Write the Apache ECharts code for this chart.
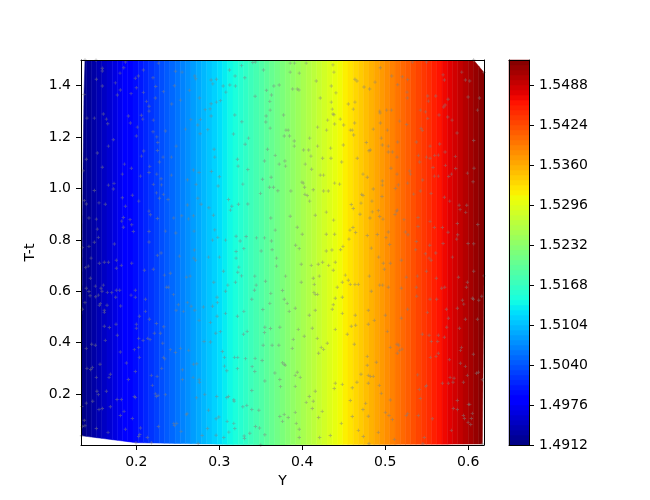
<!DOCTYPE html>
<html>
<head>
<meta charset="utf-8">
<script src="https://cdn.jsdelivr.net/npm/echarts@6/dist/echarts.min.js"></script>
<style>html,body{margin:0;padding:0;background:#fff;}#chart{width:650px;height:500px;}</style>
</head>
<body>
<div id="chart"></div>
<script>
// ---------------- data ----------------
// field profile: value of the contoured quantity along the horizontal axis "Y"
const profileY     = [0.1334, 0.2, 0.3, 0.4, 0.5, 0.6, 0.619];
const profileValue = [1.4912, 1.4997, 1.5123, 1.5250, 1.5377, 1.5504, 1.5528];
// contour levels (as chosen by the plotting library)
const levelMin = 1.4912, levelStep = 0.0008, levelCount = 77;
const colorbarTicks = [1.4912, 1.4976, 1.5040, 1.5104, 1.5168, 1.5232, 1.5296, 1.5360, 1.5424, 1.5488];
const xTicks = [0.2, 0.3, 0.4, 0.5, 0.6];
const yTicks = [0.2, 0.4, 0.6, 0.8, 1.0, 1.2, 1.4];
const X_MIN = 0.1334, X_MAX = 0.619, Y_MIN = 0.002, Y_MAX = 1.5;
// sample locations [Y, T-t] (a read-off subset plus the outermost points)
const samplePoints = [
[0.1340,0.038],[0.1996,0.011],[0.2746,0.008],[0.3500,0.002],[0.5454,0.0066],[0.6170,0.006],[0.6171,0.256],[0.6190,0.660],[0.6190,1.451],[0.6065,1.500],[0.1382,1.500],[0.1370,1.366],[0.1358,1.069],[0.1350,0.770],
[0.1515,1.499],[0.1869,1.492],[0.2267,1.488],[0.3404,1.490],[0.3436,1.492],[0.3268,1.478],[0.1591,1.468],[0.1591,1.457],[0.1849,1.470],[0.2086,1.461],[0.1804,1.449],[0.2472,1.456],[0.2552,1.453],[0.2705,1.438],[0.2717,1.427],[0.3123,1.461],[0.3533,1.461],[0.3191,1.438],[0.1519,1.425],[0.1989,1.429],[0.2025,1.438],[0.2202,1.431],[0.2902,1.422],[0.2966,1.425],[0.2922,1.407],[0.3047,1.399],[0.3127,1.403],[0.3195,1.399],[0.3308,1.431],[0.1748,1.411],[0.1591,1.399],[0.2001,1.392],[0.2234,1.397],[0.2460,1.400],[0.3569,1.382],[0.3658,1.399],[0.3722,1.403],[0.1808,1.383],[0.1772,1.364],[0.1937,1.369],[0.2086,1.374],[0.2327,1.377],[0.2641,1.382],[0.3079,1.375],[0.3432,1.359],[0.3629,1.364],[0.3609,1.339],[0.2230,1.352],[0.2122,1.339],[0.2154,1.320],[0.2427,1.329],[0.2532,1.344],[0.2761,1.352],[0.2902,1.330],[0.2966,1.336],[0.3014,1.342],[0.2890,1.310],[0.2830,1.307],[0.3613,1.305],[0.1603,1.290],[0.1406,1.274],[0.1495,1.274],[0.1640,1.270],[0.1656,1.252],[0.1905,1.282],[0.2062,1.285],[0.2078,1.270],[0.2154,1.301],[0.2206,1.266],[0.1929,1.255],[0.2902,1.282],[0.3187,1.286],[0.3272,1.260],[0.3565,1.282],[0.3561,1.259],[0.3613,1.235],[0.2657,1.268],[0.2773,1.269],[0.2741,1.247],[0.2592,1.231],[0.2769,1.213],[0.2862,1.229],[0.2013,1.239],[0.2202,1.221],[0.2351,1.224],[0.2001,1.204],[0.2247,1.201],[0.1724,1.190],[0.1664,1.165],[0.3171,1.212],[0.3352,1.196],[0.3312,1.172],[0.2259,1.179],[0.2480,1.165],[0.2255,1.148],[0.2090,1.146],[0.2062,1.126],[0.1531,1.138],[0.1398,1.114],[0.2323,1.122],[0.2423,1.122],[0.2279,1.103],[0.1857,1.095],[0.1591,1.083],[0.1941,1.079],[0.2162,1.086],[0.2938,1.153],[0.2946,1.122],[0.3219,1.114],[0.3227,1.087],[0.3344,1.074],[0.3581,1.153],[0.3545,1.107],[0.3674,1.129],[0.3722,1.095],[0.1832,1.056],[0.2050,1.048],[0.2154,1.062],[0.2247,1.056],[0.2299,1.038],[0.2423,1.052],[0.2616,1.034],[0.2689,1.072],[0.2757,1.062],[0.2906,1.066],[0.3002,1.046],[0.1664,1.013],[0.1732,1.020],[0.1724,0.998],[0.2206,1.016],[0.2303,1.014],[0.2721,1.016],[0.2986,1.010],[0.3284,1.017],[0.3521,1.036],[0.3625,1.044],[0.3605,1.005],[0.3654,1.005],[0.3706,0.991],[0.1495,0.992],[0.1374,0.953],[0.1398,0.940],[0.1551,0.944],[0.1627,0.939],[0.1869,0.931],[0.1832,0.964],[0.1953,0.974],[0.2030,0.951],[0.2243,0.983],[0.2327,0.977],[0.2279,0.962],[0.2383,0.957],[0.2616,0.936],[0.2741,0.962],[0.2781,0.939],[0.2874,0.925],[0.3111,0.957],[0.3151,0.931],[0.3231,0.939],[0.3344,0.940],[0.3497,0.981],[0.1430,0.885],[0.1519,0.881],[0.1845,0.887],[0.1824,0.873],[0.1925,0.879],[0.1945,0.859],[0.2154,0.912],[0.2170,0.898],[0.2255,0.883],[0.2452,0.885],[0.2548,0.894],[0.2628,0.882],[0.2689,0.894],[0.2930,0.896],[0.3135,0.916],[0.3621,0.885],[0.3674,0.838],[0.1531,0.842],[0.1543,0.810],[0.1495,0.791],[0.1430,0.775],[0.1736,0.784],[0.1845,0.849],[0.1965,0.833],[0.2154,0.833],[0.2154,0.792],[0.2351,0.834],[0.2476,0.827],[0.2697,0.834],[0.2946,0.839],[0.2982,0.810],[0.2918,0.799],[0.3075,0.799],[0.3203,0.814],[0.3252,0.796],[0.3324,0.813],[0.3449,0.808],[0.3545,0.808],[0.3629,0.796],[0.2701,0.761],[0.3203,0.755],[0.3296,0.766],[0.3505,0.757],[0.3637,0.762],
[0.3855,1.488],[0.3908,1.488],[0.4048,1.488],[0.4370,1.481],[0.3855,1.453],[0.3964,1.449],[0.4382,1.453],[0.4941,1.470],[0.5327,1.492],[0.5496,1.492],[0.4169,1.418],[0.4635,1.425],[0.4659,1.418],[0.4877,1.414],[0.4744,1.395],[0.4812,1.387],[0.5078,1.438],[0.5206,1.435],[0.5270,1.424],[0.5150,1.404],[0.5697,1.442],[0.5713,1.422],[0.5922,1.453],[0.5966,1.422],[0.6018,1.418],[0.3884,1.387],[0.3940,1.387],[0.3960,1.383],[0.4350,1.399],[0.4406,1.372],[0.4217,1.352],[0.5262,1.375],[0.5266,1.352],[0.5512,1.360],[0.5520,1.340],[0.5608,1.360],[0.5757,1.347],[0.5998,1.356],[0.6135,1.352],[0.4350,1.336],[0.4555,1.329],[0.4635,1.336],[0.4362,1.309],[0.4615,1.309],[0.4370,1.290],[0.4382,1.287],[0.4306,1.266],[0.4458,1.270],[0.4390,1.251],[0.4499,1.247],[0.4631,1.255],[0.4603,1.227],[0.4933,1.301],[0.4937,1.294],[0.5017,1.305],[0.5074,1.305],[0.5423,1.305],[0.5484,1.298],[0.5705,1.317],[0.5721,1.325],[0.5648,1.286],[0.5753,1.278],[0.6111,1.305],[0.3775,1.286],[0.4185,1.239],[0.3803,1.227],[0.3831,1.227],[0.4294,1.227],[0.4579,1.227],[0.4619,1.208],[0.4856,1.231],[0.4941,1.255],[0.5025,1.227],[0.5174,1.262],[0.5258,1.249],[0.5512,1.273],[0.5431,1.234],[0.5447,1.226],[0.5805,1.266],[0.5865,1.216],[0.3783,1.204],[0.3847,1.204],[0.3904,1.185],[0.4089,1.196],[0.3904,1.165],[0.4016,1.150],[0.4077,1.150],[0.4185,1.165],[0.4342,1.157],[0.4495,1.169],[0.4772,1.179],[0.4953,1.196],[0.4965,1.169],[0.5037,1.165],[0.5037,1.142],[0.4804,1.147],[0.4820,1.150],[0.5150,1.181],[0.5142,1.122],[0.5086,1.142],[0.5375,1.181],[0.5399,1.129],[0.5540,1.165],[0.5540,1.118],[0.5596,1.129],[0.5640,1.130],[0.5656,1.173],[0.5721,1.142],[0.5845,1.125],[0.6066,1.187],[0.3791,1.107],[0.3799,1.087],[0.4036,1.095],[0.4105,1.126],[0.4113,1.075],[0.4245,1.118],[0.4346,1.118],[0.4475,1.103],[0.4663,1.118],[0.5069,1.079],[0.5142,1.056],[0.5295,1.068],[0.5303,1.056],[0.5415,1.103],[0.5496,1.122],[0.5576,1.082],[0.5725,1.090],[0.5849,1.078],[0.6070,1.079],[0.5990,1.060],[0.5797,1.056],[0.5765,1.047],[0.5592,1.048],[0.5640,1.048],[0.5451,1.033],[0.4217,1.052],[0.4257,1.052],[0.3996,1.025],[0.4012,1.021],[0.4028,1.005],[0.3863,0.990],[0.4032,0.977],[0.4060,0.973],[0.4133,0.995],[0.4089,0.951],[0.4257,0.990],[0.4314,0.990],[0.4390,1.021],[0.4450,1.017],[0.4732,1.056],[0.4784,1.044],[0.4965,1.029],[0.4965,1.013],[0.4856,0.998],[0.4716,0.977],[0.4732,0.973],[0.4708,0.943],[0.4840,0.951],[0.4961,0.969],[0.5122,1.000],[0.5270,1.021],[0.5158,1.014],[0.5343,0.978],[0.5423,0.990],[0.5552,0.981],[0.5713,0.966],[0.5777,0.951],[0.5890,0.935],[0.5982,0.935],[0.6058,1.026],[0.4591,0.938],[0.4615,0.922],[0.4844,0.909],[0.4917,0.914],[0.4696,0.900],[0.4816,0.885],[0.4933,0.891],[0.4973,0.881],[0.5134,0.912],[0.5146,0.916],[0.5118,0.899],[0.5226,0.879],[0.5395,0.887],[0.5395,0.852],[0.5540,0.872],[0.5592,0.848],[0.5689,0.848],[0.5757,0.830],[0.5869,0.864],[0.5873,0.820],[0.5902,0.918],[0.5970,0.907],[0.6115,0.860],[0.3855,0.892],[0.3940,0.849],[0.4000,0.822],[0.4157,0.896],[0.4290,0.908],[0.4378,0.877],[0.4575,0.838],[0.4611,0.848],[0.4290,0.822],[0.4390,0.822],[0.4563,0.803],[0.4643,0.829],[0.4784,0.817],[0.4905,0.821],[0.5009,0.809],[0.5037,0.831],[0.5242,0.831],[0.5274,0.820],[0.5375,0.794],[0.5697,0.786],[0.5861,0.803],[0.5998,0.786],[0.6066,0.785],[0.3920,0.779],[0.3964,0.766],[0.4290,0.757],[0.4358,0.761],[0.4462,0.762],[0.4491,0.775],[0.4832,0.768],[0.5053,0.782],[0.5367,0.762],[0.5536,0.779],
[0.1455,0.729],[0.1422,0.698],[0.1390,0.692],[0.1555,0.709],[0.1615,0.713],[0.1664,0.713],[0.1760,0.721],[0.1760,0.690],[0.1820,0.701],[0.1945,0.709],[0.2255,0.740],[0.2299,0.749],[0.2520,0.737],[0.2693,0.729],[0.2713,0.721],[0.2870,0.733],[0.3002,0.733],[0.2098,0.682],[0.2206,0.686],[0.2339,0.663],[0.2411,0.670],[0.2604,0.655],[0.2649,0.659],[0.1447,0.651],[0.1398,0.612],[0.1430,0.599],[0.1443,0.583],[0.1507,0.620],[0.1575,0.612],[0.1603,0.624],[0.1511,0.579],[0.1543,0.585],[0.1587,0.600],[0.1652,0.596],[0.1704,0.595],[0.1760,0.604],[0.1800,0.604],[0.1812,0.543],[0.1752,0.577],[0.1567,0.552],[0.1555,0.546],[0.1648,0.546],[0.1615,0.526],[0.1615,0.518],[0.1382,0.556],[0.1350,0.530],[0.1937,0.585],[0.1989,0.604],[0.1989,0.577],[0.2110,0.569],[0.2363,0.616],[0.2387,0.616],[0.2448,0.587],[0.2508,0.548],[0.2616,0.556],[0.2661,0.542],[0.2809,0.539],[0.2918,0.542],[0.2974,0.577],[0.2978,0.556],[0.3075,0.600],[0.3103,0.624],[0.3051,0.678],[0.3203,0.729],[0.3223,0.674],[0.3235,0.694],[0.3268,0.660],[0.2934,0.635],[0.3195,0.635],[0.3428,0.659],[0.3445,0.624],[0.3424,0.604],[0.3557,0.639],[0.3690,0.729],[0.3690,0.698],[0.3621,0.592],[0.3609,0.553],[0.3525,0.529],[0.3762,0.603],[0.3392,0.569],[0.3296,0.522],[0.3219,0.503],[0.3075,0.514],[0.2974,0.503],[0.2894,0.479],[0.2757,0.487],[0.2705,0.526],[0.2568,0.522],[0.2480,0.526],[0.2243,0.475],[0.2158,0.491],[0.2110,0.522],[0.2038,0.503],[0.2001,0.472],[0.2001,0.456],[0.2218,0.437],[0.2291,0.437],[0.2331,0.462],[0.1756,0.472],[0.1615,0.464],[0.1676,0.459],[0.1772,0.429],[0.1627,0.409],[0.1463,0.394],[0.1507,0.390],[0.1398,0.378],[0.1808,0.364],[0.2029,0.417],[0.2082,0.409],[0.2138,0.417],[0.2166,0.412],[0.2029,0.382],[0.1977,0.373],[0.2038,0.343],[0.2319,0.398],[0.2327,0.343],[0.2343,0.337],[0.2411,0.373],[0.2472,0.362],[0.2532,0.378],[0.2632,0.370],[0.2689,0.316],[0.2729,0.318],[0.2817,0.405],[0.2894,0.403],[0.2958,0.437],[0.3014,0.443],[0.3336,0.444],[0.3292,0.433],[0.3549,0.460],[0.3545,0.440],[0.3617,0.455],[0.3730,0.460],[0.3529,0.390],[0.3637,0.390],[0.3718,0.390],[0.3038,0.366],[0.3063,0.343],[0.3183,0.343],[0.3223,0.343],[0.3316,0.338],[0.3219,0.299],[0.3063,0.309],[0.3091,0.291],[0.3396,0.307],[0.3428,0.288],[0.3517,0.331],[0.3432,0.339],[0.3762,0.322],[0.3670,0.282],[0.3730,0.257],[0.3549,0.251],[0.3392,0.214],[0.3738,0.229],[0.1563,0.316],[0.1471,0.304],[0.1406,0.300],[0.1451,0.296],[0.1688,0.277],[0.1672,0.265],[0.1519,0.265],[0.1905,0.257],[0.1881,0.321],[0.1989,0.288],[0.2182,0.273],[0.2251,0.269],[0.2307,0.300],[0.2556,0.257],[0.2556,0.295],[0.2685,0.265],[0.2757,0.257],[0.2761,0.246],[0.2194,0.234],[0.2230,0.201],[0.2243,0.191],[0.2351,0.198],[0.2263,0.195],[0.1977,0.191],[0.1989,0.187],[0.1768,0.179],[0.1820,0.179],[0.1543,0.198],[0.1475,0.172],[0.1398,0.165],[0.1527,0.211],[0.1640,0.211],[0.1688,0.151],[0.1551,0.140],[0.1591,0.144],[0.1853,0.133],[0.1808,0.117],[0.1953,0.105],[0.1342,0.152],[0.1374,0.098],[0.1382,0.077],[0.1350,0.074],[0.1519,0.066],[0.1660,0.051],[0.1869,0.063],[0.2050,0.068],[0.2029,0.035],[0.2042,0.043],[0.2134,0.031],[0.2267,0.074],[0.2182,0.011],[0.2452,0.086],[0.2460,0.078],[0.2488,0.086],[0.2540,0.055],[0.2604,0.120],[0.2612,0.125],[0.2725,0.186],[0.2825,0.199],[0.2970,0.191],[0.3091,0.187],[0.3111,0.191],[0.3175,0.178],[0.3179,0.172],[0.3284,0.151],[0.3332,0.156],[0.3392,0.140],[0.3477,0.137],[0.2870,0.137],[0.2962,0.104],[0.2994,0.111],[0.3095,0.094],[0.3175,0.086],[0.3187,0.066],[0.3115,0.052],[0.2858,0.066],[0.3300,0.037],[0.3304,0.027],[0.3368,0.048],[0.3436,0.074],[0.3485,0.068],[0.3549,0.042],[0.3730,0.113],[0.3762,0.094],[0.3055,0.031],[0.2962,0.040],[0.2793,0.039],
[0.3988,0.705],[0.4109,0.701],[0.4193,0.705],[0.4245,0.713],[0.4318,0.701],[0.4398,0.713],[0.4374,0.682],[0.3799,0.659],[0.3988,0.635],[0.4133,0.651],[0.4205,0.659],[0.4145,0.627],[0.4141,0.596],[0.4157,0.588],[0.4185,0.588],[0.3783,0.569],[0.3819,0.553],[0.3843,0.522],[0.3916,0.534],[0.4085,0.507],[0.4157,0.526],[0.4398,0.573],[0.4483,0.577],[0.4374,0.548],[0.4362,0.530],[0.4483,0.514],[0.4422,0.616],[0.4483,0.635],[0.4519,0.663],[0.4555,0.643],[0.4579,0.627],[0.4635,0.627],[0.4676,0.627],[0.4832,0.600],[0.4808,0.659],[0.4921,0.733],[0.4977,0.709],[0.5061,0.709],[0.4989,0.686],[0.5194,0.721],[0.4933,0.624],[0.4969,0.624],[0.5194,0.612],[0.5037,0.616],[0.5254,0.655],[0.5387,0.659],[0.5375,0.616],[0.5484,0.746],[0.5528,0.729],[0.5552,0.721],[0.5608,0.749],[0.5496,0.678],[0.5616,0.651],[0.5680,0.612],[0.5717,0.616],[0.5809,0.733],[0.5882,0.655],[0.5990,0.635],[0.5978,0.616],[0.6066,0.678],[0.5379,0.581],[0.5540,0.569],[0.5620,0.569],[0.5930,0.565],[0.5946,0.550],[0.6050,0.573],[0.6062,0.569],[0.6127,0.565],[0.6163,0.581],[0.4639,0.507],[0.4796,0.526],[0.5001,0.507],[0.4643,0.468],[0.4591,0.464],[0.4543,0.433],[0.3952,0.452],[0.3892,0.413],[0.3880,0.378],[0.4024,0.425],[0.4121,0.456],[0.4181,0.417],[0.4229,0.382],[0.4257,0.374],[0.4197,0.359],[0.4302,0.398],[0.4398,0.452],[0.4627,0.394],[0.4796,0.472],[0.4868,0.487],[0.5025,0.444],[0.5061,0.382],[0.5142,0.394],[0.5162,0.390],[0.5174,0.370],[0.5146,0.359],[0.5202,0.375],[0.5194,0.495],[0.5270,0.530],[0.5508,0.518],[0.5737,0.530],[0.5869,0.534],[0.5966,0.491],[0.6111,0.491],[0.5761,0.495],[0.5741,0.460],[0.5894,0.456],[0.5447,0.433],[0.5528,0.429],[0.5640,0.429],[0.5713,0.421],[0.5556,0.405],[0.5632,0.405],[0.5640,0.359],[0.5544,0.343],[0.5612,0.347],[0.5773,0.334],[0.5918,0.382],[0.5906,0.370],[0.5906,0.320],[0.5966,0.308],[0.5990,0.273],[0.6099,0.281],[0.6123,0.285],[0.6062,0.355],[0.3783,0.316],[0.3795,0.312],[0.3916,0.273],[0.3940,0.285],[0.3976,0.265],[0.3916,0.230],[0.4085,0.191],[0.4133,0.172],[0.4048,0.168],[0.4157,0.211],[0.4398,0.242],[0.4483,0.238],[0.4386,0.222],[0.4603,0.225],[0.4659,0.246],[0.4708,0.277],[0.4784,0.347],[0.4784,0.312],[0.4796,0.273],[0.4820,0.269],[0.4856,0.269],[0.4893,0.324],[0.4929,0.234],[0.4953,0.203],[0.5061,0.177],[0.5001,0.129],[0.5045,0.117],[0.5086,0.101],[0.4796,0.242],[0.4732,0.140],[0.4764,0.164],[0.4579,0.175],[0.4241,0.133],[0.4121,0.144],[0.3783,0.121],[0.3831,0.109],[0.3916,0.129],[0.3928,0.086],[0.3964,0.063],[0.3964,0.031],[0.4197,0.109],[0.4209,0.031],[0.4338,0.039],[0.4471,0.086],[0.4603,0.113],[0.4676,0.059],[0.4736,0.035],[0.4917,0.051],[0.5110,0.024],[0.4796,0.114],[0.4804,0.007],[0.5254,0.117],[0.5270,0.125],[0.5399,0.117],[0.5411,0.218],[0.5423,0.183],[0.5488,0.229],[0.5496,0.234],[0.5391,0.275],[0.5568,0.104],[0.5689,0.242],[0.5761,0.242],[0.5781,0.265],[0.5817,0.246],[0.5829,0.262],[0.5869,0.175],[0.5942,0.246],[0.5821,0.144],[0.5869,0.140],[0.5942,0.117],[0.5954,0.105],[0.6002,0.160],[0.6018,0.160],[0.6050,0.125],[0.6038,0.105],[0.5998,0.090],[0.6030,0.082],[0.5797,0.059],[0.5471,0.031]
];

// ---------------- helpers ----------------
const levels = [];
for (let k = 0; k <= levelCount; k++) levels.push(+(levelMin + k * levelStep).toFixed(4));
const LEVEL_MAX = levels[levels.length - 1];

function invProfile(v) {
  const n = profileY.length;
  if (v <= profileValue[0]) return profileY[0];
  if (v >= profileValue[n - 1]) return profileY[n - 1];
  for (let i = 0; i < n - 1; i++) {
    const a = profileValue[i], b = profileValue[i + 1];
    if (v >= a && v <= b) return profileY[i] + (v - a) / (b - a) * (profileY[i + 1] - profileY[i]);
  }
  return profileY[n - 1];
}
// band table for the filled contours: [Y start, Y end, layer value]
const bandData = [];
for (let k = 0; k < levelCount; k++) {
  bandData.push([invProfile(levels[k]), invProfile(levels[k + 1]), (levels[k] + levels[k + 1]) / 2]);
}
const cbData = [];
for (let k = 0; k < levelCount; k++) cbData.push([levels[k], levels[k + 1], (levels[k] + levels[k + 1]) / 2]);

// convex hull of the sample points (triangulation domain)
function convexHull(pts) {
  const p = pts.slice().sort((a, b) => a[0] - b[0] || a[1] - b[1]);
  const cross = (o, a, b) => (a[0] - o[0]) * (b[1] - o[1]) - (a[1] - o[1]) * (b[0] - o[0]);
  const lower = [], upper = [];
  for (const q of p) { while (lower.length >= 2 && cross(lower[lower.length - 2], lower[lower.length - 1], q) <= 0) lower.pop(); lower.push(q); }
  for (let i = p.length - 1; i >= 0; i--) { const q = p[i]; while (upper.length >= 2 && cross(upper[upper.length - 2], upper[upper.length - 1], q) <= 0) upper.pop(); upper.push(q); }
  upper.pop(); lower.pop();
  return lower.concat(upper);
}
const hull = convexHull(samplePoints);

function clipX(poly, xa, xb) {
  const clip = (pts, inside, xe) => {
    const out = [];
    for (let i = 0; i < pts.length; i++) {
      const A = pts[i], B = pts[(i + 1) % pts.length];
      const ia = inside(A), ib = inside(B);
      if (ia) out.push(A);
      if (ia !== ib) { const t = (xe - A[0]) / (B[0] - A[0]); out.push([xe, A[1] + t * (B[1] - A[1])]); }
    }
    return out;
  };
  let p = clip(poly, q => q[0] >= xa, xa);
  p = clip(p, q => q[0] <= xb, xb);
  return p;
}

// jet colormap stops (style)
function lerpSeg(t, seg) {
  for (let i = 0; i < seg.length - 1; i++) {
    if (t >= seg[i][0] && t <= seg[i + 1][0]) {
      const f = (t - seg[i][0]) / (seg[i + 1][0] - seg[i][0]);
      return seg[i][1] + f * (seg[i + 1][1] - seg[i][1]);
    }
  }
  return seg[seg.length - 1][1];
}
function jet(t) {
  const r = lerpSeg(t, [[0, 0], [0.35, 0], [0.66, 1], [0.89, 1], [1, 0.5]]);
  const g = lerpSeg(t, [[0, 0], [0.125, 0], [0.375, 1], [0.64, 1], [0.91, 0], [1, 0]]);
  const b = lerpSeg(t, [[0, 0.5], [0.11, 1], [0.34, 1], [0.65, 0], [1, 0]]);
  return 'rgb(' + Math.round(r * 255) + ',' + Math.round(g * 255) + ',' + Math.round(b * 255) + ')';
}
const jetColors = [];
for (let i = 0; i <= 200; i++) jetColors.push(jet(i / 200));

// ---------------- chart ----------------
const FONT = 'DejaVu Sans';
const lbl = { color: '#000', fontSize: 14, fontFamily: FONT, margin: 10 };
const spine = { show: true, onZero: false, lineStyle: { color: '#000', width: 1 } };
const tick = { show: true, inside: false, length: 5, lineStyle: { color: '#000', width: 1 } };
const hidden = { show: false };

const chart = echarts.init(document.getElementById('chart'), null, { renderer: 'canvas' });
chart.setOption({
  animation: false,
  backgroundColor: '#fff',
  grid: [
    { left: 81, top: 60, width: 403, height: 385 },
    { left: 509, top: 60, width: 20, height: 385 }
  ],
  visualMap: {
    type: 'continuous', show: false, min: levelMin, max: LEVEL_MAX, dimension: 2,
    seriesIndex: [0, 1], inRange: { color: jetColors }
  },
  xAxis: [
    { gridIndex: 0, type: 'value', min: X_MIN, max: X_MAX, position: 'bottom', z: 10,
      name: 'Y', nameLocation: 'middle', nameGap: 28,
      nameTextStyle: { color: '#000', fontSize: 14, fontFamily: FONT },
      axisLine: spine, axisTick: Object.assign({ customValues: xTicks }, tick),
      axisLabel: Object.assign({ customValues: xTicks, formatter: v => v.toFixed(1) }, lbl),
      splitLine: hidden },
    { gridIndex: 0, type: 'value', min: X_MIN, max: X_MAX, position: 'top', z: 10,
      axisLine: spine, axisTick: hidden, axisLabel: hidden, splitLine: hidden },
    { gridIndex: 1, type: 'value', min: 0, max: 1, position: 'bottom', z: 10,
      axisLine: spine, axisTick: hidden, axisLabel: hidden, splitLine: hidden },
    { gridIndex: 1, type: 'value', min: 0, max: 1, position: 'top', z: 10,
      axisLine: spine, axisTick: hidden, axisLabel: hidden, splitLine: hidden }
  ],
  yAxis: [
    { gridIndex: 0, type: 'value', min: Y_MIN, max: Y_MAX, position: 'left', z: 10,
      name: 'T-t', nameLocation: 'middle', nameGap: 34, nameRotate: 90,
      nameTextStyle: { color: '#000', fontSize: 14, fontFamily: FONT },
      axisLine: spine, axisTick: Object.assign({ customValues: yTicks }, tick),
      axisLabel: Object.assign({ customValues: yTicks, formatter: v => v.toFixed(1) }, lbl),
      splitLine: hidden },
    { gridIndex: 0, type: 'value', min: Y_MIN, max: Y_MAX, position: 'right', z: 10,
      axisLine: spine, axisTick: hidden, axisLabel: hidden, splitLine: hidden },
    { gridIndex: 1, type: 'value', min: levelMin, max: LEVEL_MAX, position: 'right', z: 10,
      axisLine: spine, axisTick: Object.assign({ customValues: colorbarTicks }, tick),
      axisLabel: Object.assign({ customValues: colorbarTicks, formatter: v => v.toFixed(4) }, lbl),
      splitLine: hidden },
    { gridIndex: 1, type: 'value', min: levelMin, max: LEVEL_MAX, position: 'left', z: 10,
      axisLine: spine, axisTick: hidden, axisLabel: hidden, splitLine: hidden }
  ],
  series: [
    { type: 'custom', xAxisIndex: 0, yAxisIndex: 0, data: bandData, z: 1, silent: true, clip: true,
      renderItem: function (params, api) {
        const xa = api.coord([api.value(0), Y_MAX])[0];
        const xb = api.coord([api.value(1), Y_MAX])[0];
        const hullPx = hull.map(p => api.coord(p));
        const poly = clipX(hullPx, xa, xb);
        if (poly.length < 3) return null;
        const c = api.visual('color');
        return { type: 'polygon', shape: { points: poly }, style: { fill: c, stroke: c, lineWidth: 0.5 } };
      } },
    { type: 'custom', xAxisIndex: 2, yAxisIndex: 2, data: cbData, z: 1, silent: true,
      renderItem: function (params, api) {
        const p0 = api.coord([0, api.value(1)]);
        const p1 = api.coord([1, api.value(0)]);
        const c = api.visual('color');
        return { type: 'rect', shape: { x: p0[0], y: p0[1], width: p1[0] - p0[0], height: p1[1] - p0[1] },
                 style: { fill: c, stroke: c, lineWidth: 0.5 } };
      } },
    { type: 'scatter', xAxisIndex: 0, yAxisIndex: 0, data: samplePoints, z: 3, silent: true,
      symbol: 'path://M0,1.1H3V1.9H0Z M1.1,0H1.9V3H1.1Z', symbolSize: 3.4,
      itemStyle: { color: '#808080', opacity: 0.5 } }
  ]
});
</script>
</body>
</html>
